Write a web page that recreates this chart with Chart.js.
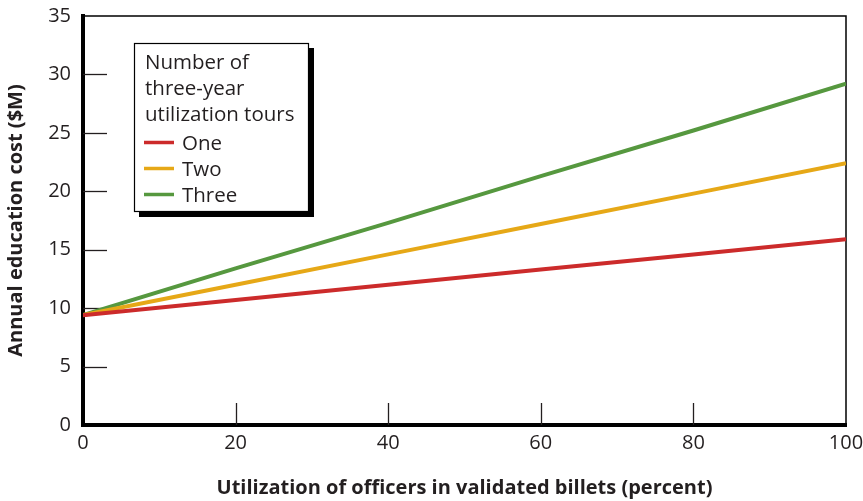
<!DOCTYPE html>
<html>
<head>
<meta charset="utf-8">
<script src="https://cdn.jsdelivr.net/npm/chart.js@4"></script>
<style>
  html, body { margin: 0; padding: 0; background: #ffffff; }
  #wrap { width: 863px; height: 501px; position: relative; }
</style>
</head>
<body>
<div id="wrap"><canvas id="c" width="863" height="501"></canvas></div>
<script>
// ---- Data ----
const xValues = [0, 20, 40, 60, 80, 100];
const seriesOne = [9.4, 10.7, 12.0, 13.3, 14.6, 15.9];
const seriesTwo = [9.4, 12.0, 14.6, 17.2, 19.8, 22.4];
const seriesThree = [9.4, 13.4, 17.3, 21.3, 25.2, 29.2];
const seriesLabels = ['One', 'Two', 'Three'];
const legendTitle = ['Number of', 'three-year', 'utilization tours'];
const xTicks = [0, 20, 40, 60, 80, 100];
const yTicks = [0, 5, 10, 15, 20, 25, 30, 35];
const xTitle = 'Utilization of officers in validated billets (percent)';
const yTitle = 'Annual education cost ($M)';

const colors = ['#cc2b2b', '#e6a817', '#56983f'];
const FONT = "'Open Sans', 'Noto Sans', sans-serif";
const TEXT = '#231f20';

function pts(vals) { return xValues.map((x, i) => ({ x: x, y: vals[i] })); }

// Frame (thin top/right), inner tick marks and boxed legend
const decorPlugin = {
  id: 'decor',
  beforeDatasetsDraw(chart) {
    const { ctx, chartArea: a, scales } = chart;
    ctx.save();
    ctx.strokeStyle = '#000';
    ctx.lineWidth = 1.5;
    ctx.beginPath();
    ctx.moveTo(a.left, a.top); ctx.lineTo(a.right, a.top); ctx.lineTo(a.right, a.bottom);
    ctx.stroke();
    ctx.strokeStyle = '#231f20';
    ctx.lineWidth = 1.3;
    yTicks.forEach(v => {
      if (v === yTicks[0] || v === yTicks[yTicks.length - 1]) return;
      const y = Math.round(scales.y.getPixelForValue(v)) + 0.5;
      ctx.beginPath(); ctx.moveTo(a.left, y); ctx.lineTo(a.left + 24, y); ctx.stroke();
    });
    xTicks.forEach(v => {
      if (v === xTicks[0] || v === xTicks[xTicks.length - 1]) return;
      const x = Math.round(scales.x.getPixelForValue(v)) + 0.5;
      ctx.beginPath(); ctx.moveTo(x, a.bottom); ctx.lineTo(x, a.bottom - 22); ctx.stroke();
    });
    ctx.restore();
  },
  afterDatasetsDraw(chart) {
    const { ctx } = chart;
    const bx = 134, by = 43, bw = 175, bh = 169;
    ctx.save();
    ctx.fillStyle = '#000';
    ctx.fillRect(bx + 5, by + 5, bw, bh);
    ctx.fillStyle = '#fff';
    ctx.fillRect(bx, by, bw, bh);
    ctx.strokeStyle = '#000';
    ctx.lineWidth = 1.2;
    ctx.strokeRect(bx + 0.5, by + 0.5, bw - 1, bh - 1);
    ctx.fillStyle = TEXT;
    ctx.font = '20.5px ' + FONT;
    ctx.textBaseline = 'alphabetic';
    ctx.textAlign = 'left';
    legendTitle.forEach((t, i) => ctx.fillText(t, 145, 69 + i * 25.8));
    chart.data.datasets.forEach((ds, i) => {
      const cy = 142.5 + i * 26;
      ctx.strokeStyle = ds.borderColor;
      ctx.lineWidth = 3.5;
      ctx.beginPath(); ctx.moveTo(144, cy); ctx.lineTo(174, cy); ctx.stroke();
      ctx.fillStyle = TEXT;
      ctx.fillText(ds.label, 182, cy + 7);
    });
    ctx.restore();
  }
};

new Chart(document.getElementById('c'), {
  type: 'line',
  data: {
    datasets: [
      { label: seriesLabels[0], data: pts(seriesOne), borderColor: colors[0] },
      { label: seriesLabels[1], data: pts(seriesTwo), borderColor: colors[1] },
      { label: seriesLabels[2], data: pts(seriesThree), borderColor: colors[2] }
    ].map(d => Object.assign(d, { borderWidth: 4, pointRadius: 0, tension: 0, fill: false }))
  },
  options: {
    responsive: false,
    animation: false,
    devicePixelRatio: 1,
    layout: { padding: { top: 16, right: 17, left: 0, bottom: 0 } },
    plugins: { legend: { display: false }, tooltip: { enabled: false } },
    scales: {
      x: {
        type: 'linear', min: 0, max: 100,
        afterBuildTicks: s => { s.ticks = xTicks.map(v => ({ value: v })); },
        afterFit: s => { s.height = 76; s.paddingLeft = 0; s.paddingRight = 0; },
        grid: { display: false, drawTicks: false },
        border: { display: true, color: '#000', width: 4 },
        ticks: { color: TEXT, font: { family: FONT, size: 20 }, padding: 6, maxRotation: 0 },
        title: { display: true, text: xTitle, color: TEXT, font: { family: FONT, size: 20, weight: 'bold' }, padding: { top: 0, bottom: 1 } }
      },
      y: {
        type: 'linear', min: 0, max: 35,
        afterBuildTicks: s => { s.ticks = yTicks.map(v => ({ value: v })); },
        afterFit: s => { s.width = 83; s.paddingTop = 0; s.paddingBottom = 0; },
        grid: { display: false, drawTicks: false },
        border: { display: true, color: '#000', width: 4 },
        ticks: { color: TEXT, font: { family: FONT, size: 20 }, padding: 12 },
        title: { display: true, text: yTitle, color: TEXT, font: { family: FONT, size: 20, weight: 'bold' }, padding: { top: 4, bottom: 0 } }
      }
    }
  },
  plugins: [decorPlugin]
});
</script>
</body>
</html>
